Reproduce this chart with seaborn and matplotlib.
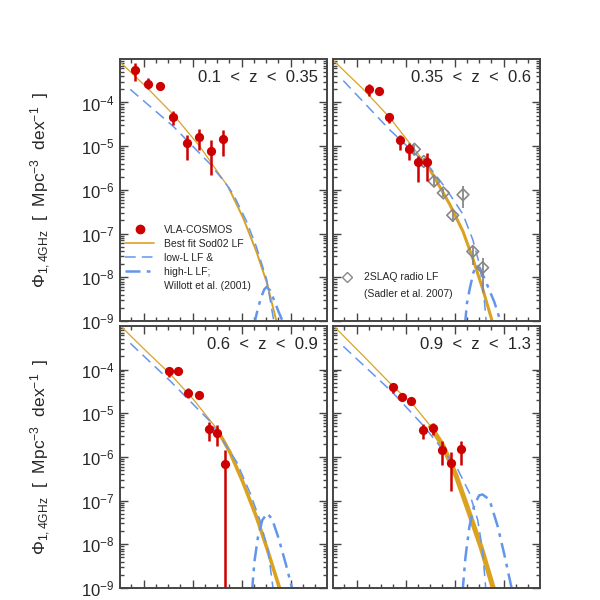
import numpy as np
import matplotlib
matplotlib.use("Agg")
import matplotlib.pyplot as plt
import seaborn as sns
from matplotlib.lines import Line2D
from matplotlib.ticker import MultipleLocator, FixedLocator, LogLocator, NullFormatter

# ---- data (log10 L_1.4GHz [W/Hz], log10 Phi [Mpc^-3 dex^-1]) ----
z_labels = ["0.1  <  z  <  0.35", "0.35  <  z  <  0.6",
            "0.6  <  z  <  0.9", "0.9  <  z  <  1.3"]

# VLA-COSMOS points: value, lower and upper end of error bar
vla_logL = [
    [21.83, 22.09, 22.34, 22.61, 22.88, 23.13, 23.37, 23.62],
    [22.26, 22.46, 22.66, 22.88, 23.07, 23.25, 23.44],
    [22.52, 22.71, 22.91, 23.13, 23.33, 23.50, 23.67],
    [22.74, 22.93, 23.12, 23.35, 23.55, 23.75, 23.92, 24.12],
]
vla_logphi = [
    [-3.25, -3.57, -3.62, -4.33, -4.92, -4.78, -5.11, -4.84],
    [-3.70, -3.74, -4.34, -4.86, -5.06, -5.36, -5.36],
    [-4.04, -4.03, -4.53, -4.59, -5.37, -5.46, -6.16],
    [-4.41, -4.62, -4.72, -5.39, -5.35, -5.84, -6.14, -5.83],
]
vla_lo = [
    [-3.50, -3.68, -3.65, -4.51, -5.31, -5.09, -5.65, -5.23],
    [-3.85, -3.78, -4.47, -5.09, -5.32, -5.81, -5.80],
    [-4.17, -4.06, -4.65, -4.66, -5.64, -5.75, -9.50],
    [-4.53, -4.68, -4.76, -5.58, -5.50, -6.19, -6.78, -6.19],
]
vla_hi = [
    [-3.09, -3.45, -3.59, -4.20, -4.74, -4.61, -4.86, -4.63],
    [-3.58, -3.70, -4.24, -4.74, -4.93, -5.23, -5.15],
    [-3.95, -4.00, -4.43, -4.52, -5.21, -5.28, -5.85],
    [-4.32, -4.56, -4.68, -5.25, -5.23, -5.64, -5.89, -5.64],
]

# 2SLAQ radio LF (Sadler et al. 2007), second panel only
slaq_logL = [23.18, 23.37, 23.58, 23.77, 23.96, 24.17, 24.37, 24.57]
slaq_logphi = [-5.07, -5.35, -5.80, -6.07, -6.58, -6.11, -7.41, -7.78]
slaq_lo = [-5.17, -5.44, -5.90, -6.17, -6.74, -6.41, -7.72, -8.34]
slaq_hi = [-4.97, -5.26, -5.71, -5.98, -6.48, -5.90, -7.30, -7.55]

# best fit Sadler02 LF
fit_logL = [
    [21.53, 22.07, 22.61, 23.15, 23.73, 24.03, 24.30, 24.51, 24.73],
    [21.53, 22.14, 22.68, 23.18, 23.49, 23.90, 24.17, 24.37, 24.57, 24.79],
    [21.53, 22.00, 22.54, 23.02, 23.49, 23.76, 24.03, 24.30, 24.51, 24.80],
    [21.53, 22.14, 22.74, 23.15, 23.49, 23.76, 24.03, 24.30, 24.54, 24.80],
]
fit_logphi = [
    [-3.08, -3.66, -4.28, -5.01, -5.94, -6.64, -7.41, -8.11, -9.10],
    [-3.04, -3.70, -4.35, -5.07, -5.52, -6.33, -6.95, -7.57, -8.26, -9.10],
    [-3.00, -3.52, -4.10, -4.69, -5.35, -5.89, -6.59, -7.37, -8.07, -9.10],
    [-3.00, -3.69, -4.38, -4.80, -5.27, -5.74, -6.43, -7.29, -8.07, -9.05],
]

# Willott et al. (2001) low-L LF
low_logL = [
    [21.73, 22.61, 23.35, 23.66, 23.83, 24.10, 24.30, 24.51, 24.67],
    [21.73, 22.68, 23.49, 23.83, 24.17, 24.37, 24.51, 24.59, 24.65],
    [21.73, 22.54, 23.35, 23.66, 23.90, 24.17, 24.37, 24.54, 24.65],
    [21.73, 22.74, 23.35, 23.69, 24.06, 24.30, 24.47, 24.57, 24.64],
]
low_logphi = [
    [-3.70, -4.55, -5.40, -5.83, -6.10, -6.72, -7.30, -8.05, -9.10],
    [-3.50, -4.63, -5.48, -5.98, -6.56, -7.14, -7.72, -8.34, -9.10],
    [-3.40, -4.26, -5.18, -5.70, -6.12, -6.82, -7.44, -8.14, -9.10],
    [-3.47, -4.53, -5.27, -5.74, -6.28, -6.82, -7.44, -8.14, -9.10],
]

# Willott et al. (2001) high-L LF
high_logL = [
    [24.25, 24.33, 24.40, 24.46, 24.51, 24.58, 24.66, 24.75, 24.87],
    [24.21, 24.25, 24.31, 24.38, 24.44, 24.52, 24.64, 24.81, 24.96],
    [24.21, 24.26, 24.33, 24.42, 24.52, 24.62, 24.75, 24.90, 25.05],
    [24.16, 24.22, 24.30, 24.40, 24.50, 24.57, 24.71, 24.88, 25.01, 25.18],
]
high_logphi = [
    [-9.10, -8.72, -8.45, -8.28, -8.22, -8.30, -8.52, -8.78, -9.10],
    [-9.10, -8.60, -8.25, -7.90, -7.72, -7.80, -8.11, -8.57, -9.10],
    [-9.10, -8.40, -7.85, -7.45, -7.29, -7.42, -7.85, -8.45, -9.10],
    [-9.10, -8.30, -7.60, -7.10, -6.88, -6.86, -6.98, -7.60, -8.22, -9.10],
]

# ---- style ----
red = "#cc0000"
gold = "#dba220"
blue = "#6495ed"
frame = "#444444"
dash_low = (0, (7, 4))
dash_high = (0, (6, 2.5, 1.5, 2.5))
thick_from = [23.73, 23.49, 23.49, 23.49]
thick_lw = [1.4, 2.2, 2.6, 3.6]

sns.set_style("ticks")
plt.rcParams["font.family"] = ["Liberation Sans", "DejaVu Sans"]
plt.rcParams["mathtext.fontset"] = "custom"
plt.rcParams["mathtext.rm"] = "Liberation Sans"
plt.rcParams["mathtext.it"] = "Liberation Sans:italic"
plt.rcParams["mathtext.bf"] = "Liberation Sans:bold"

fig = plt.figure(figsize=(6, 6), dpi=100)
corners = [(0.2, 0.465), (0.555, 0.465), (0.2, 0.02), (0.555, 0.02)]
w, h = 0.345, 0.437

for i, (x0, y0) in enumerate(corners):
    ax = fig.add_axes([x0, y0, w, h])

    L = np.array(fit_logL[i])
    P = 10 ** np.array(fit_logphi[i])
    thin = L <= thick_from[i]
    thick = L >= thick_from[i]
    sns.lineplot(x=L[thin], y=P[thin], ax=ax, color=gold, lw=0.9,
                 estimator=None, sort=False)
    sns.lineplot(x=L[thick], y=P[thick], ax=ax, color=gold, lw=thick_lw[i],
                 estimator=None, sort=False, solid_capstyle="butt")
    sns.lineplot(x=low_logL[i], y=10 ** np.array(low_logphi[i]), ax=ax,
                 color=blue, lw=1.1, linestyle=dash_low, estimator=None, sort=False)
    sns.lineplot(x=high_logL[i], y=10 ** np.array(high_logphi[i]), ax=ax,
                 color=blue, lw=1.8, linestyle=dash_high, estimator=None, sort=False)

    if i == 1:
        y = 10 ** np.array(slaq_logphi)
        ax.vlines(slaq_logL, 10 ** np.array(slaq_lo), 10 ** np.array(slaq_hi),
                  color="#888888", lw=1.3, zorder=4)
        sns.scatterplot(x=slaq_logL, y=y, ax=ax, marker="D", s=36,
                        facecolor="none", edgecolor="#888888", linewidth=1.2,
                        zorder=5)

    y = 10 ** np.array(vla_logphi[i])
    ax.vlines(vla_logL[i], 10 ** np.array(vla_lo[i]), 10 ** np.array(vla_hi[i]),
              color=red, lw=1.8, zorder=6)
    sns.scatterplot(x=vla_logL[i], y=y, ax=ax, color=red, s=44,
                    edgecolor=red, linewidth=0, zorder=7)

    ax.set_yscale("log")
    ax.set_xlim(21.52, 25.74)
    ax.set_ylim(1e-9, 1e-3)
    ax.xaxis.set_major_locator(MultipleLocator(1))
    ax.xaxis.set_minor_locator(MultipleLocator(0.25))
    ax.yaxis.set_major_locator(FixedLocator(10.0 ** np.arange(-9, -3)))
    ax.yaxis.set_minor_locator(LogLocator(base=10, subs=np.arange(2, 10), numticks=20))
    ax.yaxis.set_minor_formatter(NullFormatter())
    ax.tick_params(which="both", direction="in", top=True, right=True,
                   labelbottom=False, color=frame, width=1.0)
    ax.tick_params(which="major", length=6, labelsize=12, pad=4)
    ax.tick_params(which="minor", length=3)
    if i % 2 == 1:
        ax.tick_params(labelleft=False)
    for s in ax.spines.values():
        s.set_color(frame)
        s.set_linewidth(1.4)
    ax.set_xlabel("")
    ax.set_ylabel("")

    ax.text(0.955, 0.93, z_labels[i], transform=ax.transAxes,
            ha="right", va="center", fontsize=12)

    if i == 0:
        handles = [
            Line2D([], [], marker="o", color=red, ls="none", ms=6),
            Line2D([], [], color=gold, lw=1.2),
            Line2D([], [], color=blue, lw=1.1, ls=dash_low),
            Line2D([], [], color=blue, lw=1.8, ls=dash_high),
            Line2D([], [], ls="none"),
        ]
        labels = ["VLA-COSMOS", "Best fit Sod02 LF", "low-L LF &",
                  "high-L LF;", "Willott et al. (2001)"]
        ax.legend(handles, labels, loc="lower left", bbox_to_anchor=(-0.02, 0.08),
                  frameon=False, fontsize=7.5, handlelength=2.8,
                  handletextpad=0.9, labelspacing=0.38)
    if i == 1:
        handles = [
            Line2D([], [], marker="D", color="#888888", mfc="none", ls="none", ms=5),
            Line2D([], [], ls="none"),
        ]
        labels = ["2SLAQ radio LF", "(Sadler et al. 2007)"]
        ax.legend(handles, labels, loc="lower left", bbox_to_anchor=(-0.02, 0.05),
                  frameon=False, fontsize=7.5, handlelength=1.6,
                  handletextpad=0.9, labelspacing=0.6)

ylab = r"$\Phi_{\rm 1,4GHz}$  [  Mpc$^{-3}$  dex$^{-1}$  ]"
fig.text(0.068, 0.683, ylab, rotation=90, ha="center", va="center", fontsize=12.5)
fig.text(0.068, 0.238, ylab, rotation=90, ha="center", va="center", fontsize=12.5)

fig.savefig("out.png", dpi=100)
